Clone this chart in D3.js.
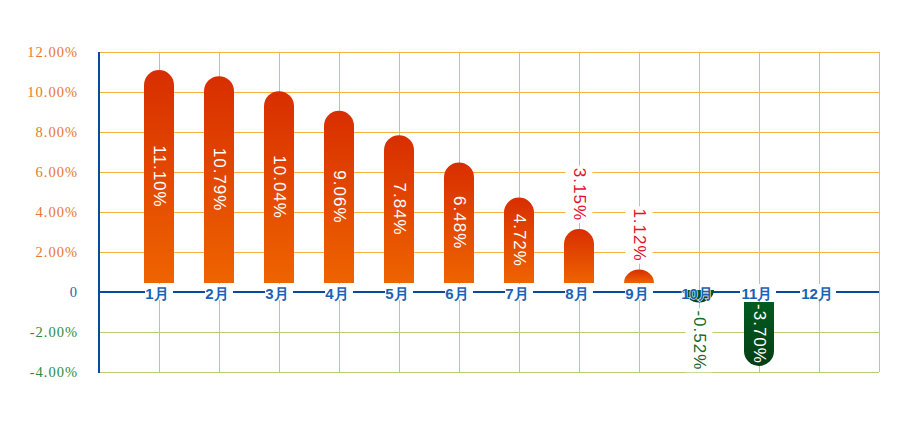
<!DOCTYPE html>
<html><head><meta charset="utf-8">
<script src="https://cdn.jsdelivr.net/npm/d3@7"></script>
<style>
html,body{margin:0;padding:0;background:#fff;}
svg{display:block;}
</style></head>
<body>
<svg id="chart" width="910" height="430"></svg>
<script>
const months = ["1月","2月","3月","4月","5月","6月","7月","8月","9月","10月","11月","12月"];
const values = [11.10, 10.79, 10.04, 9.06, 7.84, 6.48, 4.72, 3.15, 1.12, -0.52, -3.70, null];
const valueLabels = ["11.10%","10.79%","10.04%","9.06%","7.84%","6.48%","4.72%","3.15%","1.12%","-0.52%","-3.70%",""];
const yTicks = [-4, -2, 0, 2, 4, 6, 8, 10, 12];
const yTickLabels = ["-4.00%","-2.00%","0","2.00%","4.00%","6.00%","8.00%","10.00%","12.00%"];

const svg = d3.select("#chart");
const L = 99, R = 879, T = 52, B = 372;
const x = d3.scalePoint().domain(months).range([L, R]).padding(1);
const y = d3.scaleLinear().domain([-4, 12]).range([B, T]);

const defs = svg.append("defs");
const gp = defs.append("linearGradient").attr("id","gPos").attr("x1",0).attr("y1",0).attr("x2",0).attr("y2",1);
gp.append("stop").attr("offset","0%").attr("stop-color","#d82e00");
gp.append("stop").attr("offset","100%").attr("stop-color","#ee6400");
const gn = defs.append("linearGradient").attr("id","gNeg").attr("x1",0).attr("y1",0).attr("x2",0).attr("y2",1);
gn.append("stop").attr("offset","0%").attr("stop-color","#005c20");
gn.append("stop").attr("offset","100%").attr("stop-color","#063e14");

// horizontal grid
svg.append("g").selectAll("line").data(yTicks.filter(d => d !== 0)).join("line")
  .attr("x1", L).attr("x2", R)
  .attr("y1", d => Math.round(y(d)) + 0.5).attr("y2", d => Math.round(y(d)) + 0.5)
  .attr("stroke", d => d > 0 ? "#f7b23e" : "#b5cf72").attr("stroke-width", 1);

// vertical grid
svg.append("g").selectAll("line").data(months).join("line")
  .attr("x1", d => x(d) + 0.5).attr("x2", d => x(d) + 0.5)
  .attr("y1", T).attr("y2", B)
  .attr("stroke", "#a2c2e6").attr("stroke-width", 1);
svg.append("line").attr("x1", R + 0.5).attr("x2", R + 0.5).attr("y1", T).attr("y2", B)
  .attr("stroke", "#a2c2e6").attr("stroke-width", 1);

// y labels
svg.append("g").selectAll("text").data(yTicks).join("text")
  .attr("x", 78).attr("y", d => y(d))
  .attr("text-anchor", "end").attr("dominant-baseline", "central")
  .attr("font-family", "'Liberation Serif','Times New Roman',serif")
  .attr("font-size", 14.5).attr("letter-spacing", 1)
  .attr("fill", d => d > 0 ? "#e8782a" : (d === 0 ? "#2a62b0" : "#2f8a3a"))
  .text((d, i) => yTickLabels[i]);

// axes lines
const y0 = y(0);
svg.append("line").attr("x1", L).attr("x2", L).attr("y1", T).attr("y2", B + 1)
  .attr("stroke", "#0a4a9e").attr("stroke-width", 2);
svg.append("line").attr("x1", L).attr("x2", R).attr("y1", y0).attr("y2", y0)
  .attr("stroke", "#0a4a9e").attr("stroke-width", 2);

// bars
const hw = 15;
const barData = months.map((m, i) => ({m, v: values[i], label: valueLabels[i]})).filter(d => d.v !== null);
function geom(d) {
  const cx = x(d.m);
  const yv = y(d.v);
  let base;
  if (d.v >= 0) base = y0 - 9;
  else { base = y0 + 10; if (yv < base + 2) base = y0 - 2; }
  return {cx, yv, base, len: Math.abs(yv - base)};
}
function barPath(d) {
  const {cx, yv, base, len} = geom(d);
  const sweep = d.v >= 0 ? 1 : 0;
  if (len >= hw) {
    const yc = d.v >= 0 ? yv + hw : yv - hw;
    return `M${cx - hw},${base} V${yc} A${hw},${hw} 0 0 ${sweep} ${cx + hw},${yc} V${base} Z`;
  } else {
    return `M${cx - hw},${base} A${hw},${len} 0 0 ${sweep} ${cx + hw},${base} Z`;
  }
}
svg.append("g").selectAll("path").data(barData).join("path")
  .attr("d", barPath)
  .attr("fill", d => d.v >= 0 ? "url(#gPos)" : "url(#gNeg)");

// x labels
const smallNeg = (i) => values[i] !== null && values[i] < 0 && Math.abs(y(values[i]) - y0) < 12;
const xl = svg.append("g").selectAll("g").data(months).join("g")
  .attr("transform", d => `translate(${x(d)},${y0})`);
xl.append("rect").attr("x", d => -(d.length > 2 ? 19 : 14)).attr("width", d => d.length > 2 ? 36 : 28)
  .attr("y", -8).attr("height", 16).attr("fill", "#fff")
  .attr("opacity", (d, i) => smallNeg(i) ? 0 : 1);
xl.append("text").attr("x", -2).attr("y", 1)
  .attr("text-anchor", "middle").attr("dominant-baseline", "central")
  .attr("font-family", "'Liberation Sans',Arial,sans-serif").attr("font-weight", "bold")
  .attr("font-size", 15).attr("fill", "#1a62b6")
  .attr("stroke", "#fff").attr("stroke-width", (d, i) => smallNeg(i) ? 1.2 : 0).attr("paint-order", "stroke")
  .text(d => d);

// value labels
const fs = 17;
const lab = svg.append("g").selectAll("g").data(barData).join("g");
lab.each(function(d) {
  const g = geom(d);
  const sel = d3.select(this);
  const inside = g.len > 58;
  let cy, anchor;
  if (inside) { cy = (g.base + g.yv) / 2; anchor = "middle"; }
  else if (d.v >= 0) { cy = g.yv - 8; anchor = "end"; }
  else { cy = g.yv + 8; anchor = "start"; }
  sel.attr("transform", `translate(${g.cx},${cy}) rotate(90)`);
  const t = sel.append("text")
    .attr("x", 0).attr("y", 0)
    .attr("text-anchor", anchor).attr("dominant-baseline", "central")
    .attr("font-family", "'Liberation Sans',Arial,sans-serif")
    .attr("font-size", fs).attr("letter-spacing", 1)
    .attr("fill", inside ? "#fff" : (d.v >= 0 ? "#e4102c" : "#136a26"))
    .text(d.label);
  if (!inside) {
    const bb = t.node().getBBox();
    sel.insert("rect", "text")
      .attr("x", bb.x - 2).attr("y", bb.y - 4)
      .attr("width", bb.width + 4).attr("height", bb.height + 8)
      .attr("fill", "#fff");
  }
});
</script>
</body></html>
